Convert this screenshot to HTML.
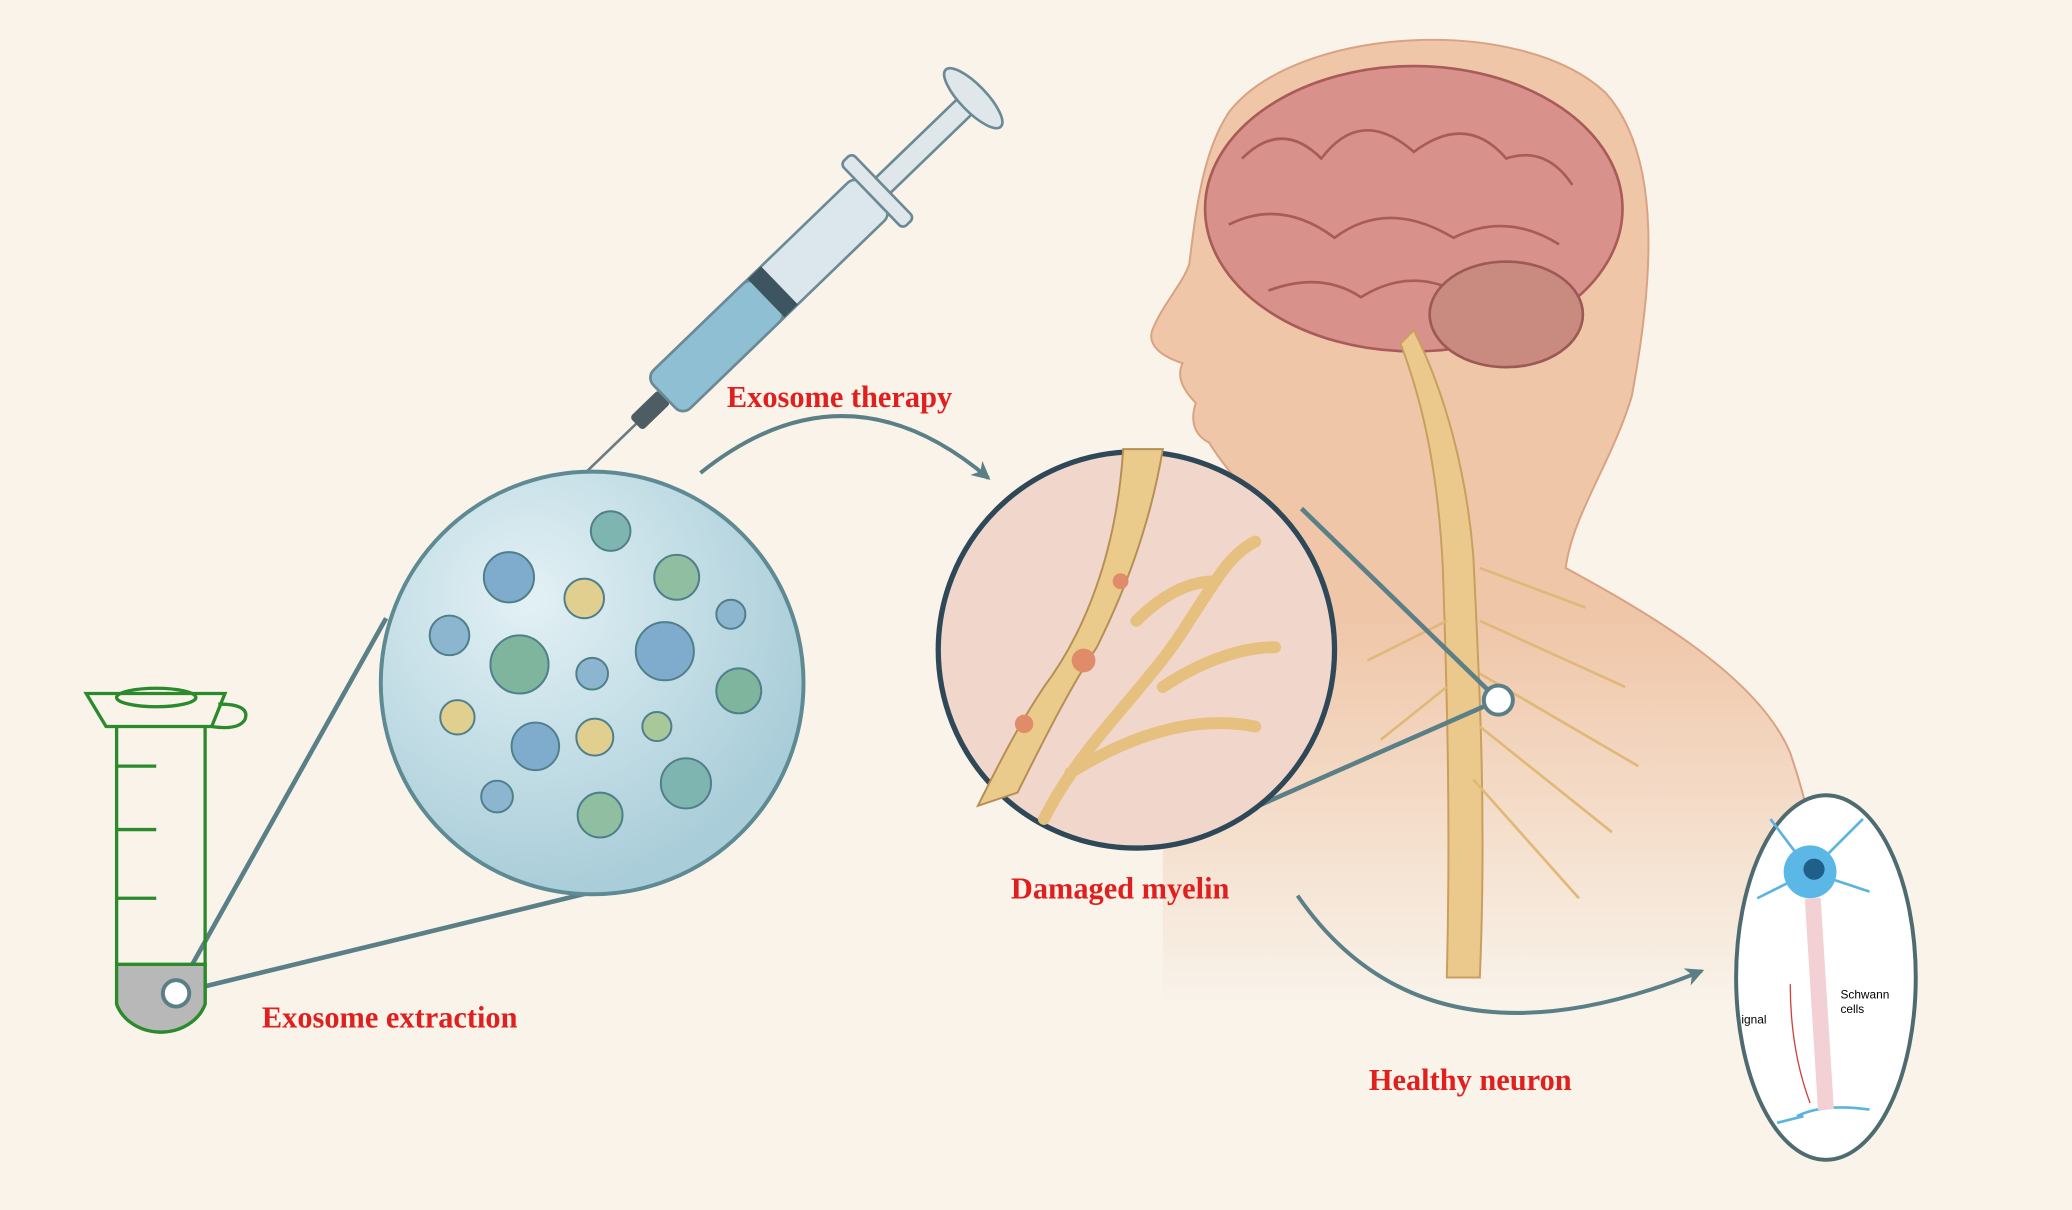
<!DOCTYPE html>
<html><head><meta charset="utf-8"><style>
html,body{margin:0;padding:0;background:#f9f3ea;}
svg{display:block}
.lbl{font-family:"Liberation Serif",serif;font-weight:bold;font-size:23px;fill:#e0201e}
</style></head><body>
<svg width="2072" height="1210" viewBox="0 0 1568 916" xmlns="http://www.w3.org/2000/svg">
<defs>
<radialGradient id="bub" cx="35%" cy="30%" r="70%"><stop offset="0" stop-color="#e3f1f5"/><stop offset="1" stop-color="#a9cdd9"/></radialGradient>
<linearGradient id="fade" x1="0" y1="0" x2="0" y2="1"><stop offset="0.6" stop-color="#efc6a8"/><stop offset="1" stop-color="#f9f3ea"/></linearGradient>
<marker id="ah" markerUnits="userSpaceOnUse" markerWidth="16" markerHeight="16" refX="12" refY="7" orient="auto"><path d="M0,0 L14,7 L0,14 L4,7 z" fill="#5b7f86"/></marker>
</defs>
<rect width="1568" height="916" fill="#f9f3ea"/>
<!-- head silhouette -->
<path d="M930,85 C980,20 1150,10 1215,70 C1260,120 1250,220 1235,300 C1220,350 1190,390 1185,430 C1240,460 1330,510 1355,570 C1375,620 1380,700 1385,760 L880,760 L880,560 C930,520 960,470 990,420 C960,390 930,360 915,335 C905,330 900,320 905,305 C895,295 890,285 895,275 C880,270 868,262 872,250 C880,230 895,215 900,200 C905,160 910,115 930,85 z" fill="url(#fade)"/>
<path d="M880,560 C930,520 960,470 990,420 C960,390 930,360 915,335 C905,330 900,320 905,305 C895,295 890,285 895,275 C880,270 868,262 872,250 C880,230 895,215 900,200 C905,160 910,115 930,85 C980,20 1150,10 1215,70 C1260,120 1250,220 1235,300 C1220,350 1190,390 1185,430 C1240,460 1330,510 1355,570 C1365,600 1370,620 1372,640" fill="none" stroke="#d9a283" stroke-width="1.5"/>
<!-- brain -->
<ellipse cx="1070" cy="158" rx="158" ry="108" fill="#d9918c" stroke="#a85b58" stroke-width="2"/>
<path d="M940,120 q30,-30 60,0 q30,-40 70,-5 q40,-30 70,5 q30,-10 50,20 M930,170 q40,-20 80,10 q40,-30 90,0 q40,-20 80,5 M960,220 q40,-15 70,5 q40,-25 80,0" stroke="#a85b58" stroke-width="2" fill="none"/>
<ellipse cx="1140" cy="238" rx="58" ry="40" fill="#c98a80" stroke="#9b5a55" stroke-width="2"/>
<!-- spinal cord -->
<path d="M1070,250 C1095,300 1110,360 1115,420 C1120,520 1125,620 1120,740 L1095,740 C1098,620 1095,520 1092,430 C1088,350 1075,300 1060,260 z" fill="#ebc98c" stroke="#c89f5e" stroke-width="1.5"/>
<path d="M1120,430 l80,30 M1120,470 l110,50 M1120,510 l120,70 M1120,550 l100,80 M1115,590 l80,90 M1095,470 l-60,30 M1095,520 l-50,40" stroke="#e0b878" stroke-width="2" fill="none"/>
<!-- syringe -->
<g transform="translate(420,380) rotate(-44)">
<line x1="0" y1="0" x2="90" y2="0" stroke="#6b7b80" stroke-width="2"/>
<rect x="85" y="-7" width="30" height="14" fill="#4d5d63" rx="3"/>
<rect x="115" y="-20" width="220" height="40" rx="8" fill="#dbe7ec" stroke="#6b8a95" stroke-width="2"/>
<rect x="115" y="-20" width="110" height="40" rx="8" fill="#8fbfd3" stroke="#6b8a95" stroke-width="2"/>
<rect x="222" y="-20" width="14" height="40" fill="#3c5560"/>
<rect x="333" y="-34" width="12" height="68" rx="4" fill="#dfe7ea" stroke="#6b8a95" stroke-width="2"/>
<rect x="345" y="-8" width="90" height="16" fill="#dfe7ea" stroke="#6b8a95" stroke-width="2"/>
<ellipse cx="440" cy="0" rx="10" ry="30" fill="#dfe7ea" stroke="#6b8a95" stroke-width="2"/>
</g>
<!-- connector lines -->
<line x1="133" y1="752" x2="292" y2="468" stroke="#5b7f86" stroke-width="3.5"/>
<line x1="133" y1="752" x2="478" y2="668" stroke="#5b7f86" stroke-width="3.5"/>
<line x1="1134" y1="530" x2="985" y2="385" stroke="#5b7f86" stroke-width="3.5"/>
<line x1="1134" y1="530" x2="925" y2="622" stroke="#5b7f86" stroke-width="3.5"/>
<!-- exosome circle -->
<circle cx="448" cy="517" r="160" fill="url(#bub)" stroke="#5e8a94" stroke-width="3"/>
<g stroke="#4f7f8a" stroke-width="1.5">
<circle cx="462" cy="402" r="15" fill="#7fb5b0"/><circle cx="385" cy="437" r="19" fill="#7faccc"/>
<circle cx="442" cy="453" r="15" fill="#e0cf8e"/><circle cx="512" cy="437" r="17" fill="#8fbfa0"/>
<circle cx="340" cy="481" r="15" fill="#8cb5d0"/><circle cx="393" cy="503" r="22" fill="#7fb59c"/>
<circle cx="448" cy="510" r="12" fill="#8cb5d0"/><circle cx="503" cy="493" r="22" fill="#7faccc"/>
<circle cx="553" cy="465" r="11" fill="#8cb5d0"/><circle cx="559" cy="523" r="17" fill="#7fb59c"/>
<circle cx="346" cy="543" r="13" fill="#e0cf8e"/><circle cx="405" cy="565" r="18" fill="#7faccc"/>
<circle cx="450" cy="558" r="14" fill="#e0cf8e"/><circle cx="497" cy="550" r="11" fill="#a8c89a"/>
<circle cx="376" cy="603" r="12" fill="#8cb5d0"/><circle cx="454" cy="617" r="17" fill="#8fbfa0"/>
<circle cx="519" cy="593" r="19" fill="#7fb5b0"/></g>
<!-- zoom circle -->
<circle cx="860" cy="492" r="150" fill="#f0d6cb" stroke="#2f4858" stroke-width="4"/>
<path d="M850,340 C845,420 820,480 790,520 C770,550 755,580 740,610 L770,600 C790,560 810,520 830,490 C850,450 870,400 880,340 z" fill="#ebcb8c" stroke="#b68f55" stroke-width="1.5"/>
<path d="M790,620 C820,560 870,520 900,470 C920,440 930,420 950,410 M880,520 C910,500 940,490 965,490 M860,470 C880,450 900,440 920,440 M810,585 C850,560 900,540 950,550" stroke="#e6c07e" stroke-width="9" fill="none" stroke-linecap="round"/>
<circle cx="820" cy="500" r="9" fill="#e08b6a"/><circle cx="775" cy="548" r="7" fill="#e08b6a"/><circle cx="848" cy="440" r="6" fill="#e08b6a"/>
<circle cx="1134" cy="530" r="11" fill="#fff" stroke="#5b7f86" stroke-width="3"/>
<!-- tube -->
<g stroke="#2b8a2b" stroke-width="2.5" fill="none">
<path d="M88,550 L88,760 A35,30 0 0 0 155,760 L155,550"/>
<path d="M88,730 L155,730 L155,760 A35,30 0 0 1 88,760 z" fill="#b8b8b8"/>
<path d="M65,525 L170,525 L160,550 L80,550 z" fill="#f9f3ea"/>
<ellipse cx="118" cy="528" rx="30" ry="7"/>
<path d="M165,533 q25,0 20,12 q-5,8 -25,5"/>
<path d="M88,628 l30,0 M88,680 l30,0 M88,580 l30,0"/>
</g>
<circle cx="133" cy="752" r="10" fill="#fff" stroke="#5b7f86" stroke-width="3"/>
<!-- arrows -->
<path d="M530,358 Q640,270 748,362" stroke="#5b7f86" stroke-width="3" fill="none" marker-end="url(#ah)"/>
<path d="M982,678 Q1080,820 1288,735" stroke="#5b7f86" stroke-width="3" fill="none" marker-end="url(#ah)"/>
<!-- neuron oval -->
<ellipse cx="1382" cy="740" rx="68" ry="138" fill="#fff" stroke="#4d6b70" stroke-width="3"/>
<path d="M1370,660 l-30,-40 M1370,660 l40,-40 M1370,660 l-40,20 M1370,660 l45,15 M1360,845 q20,-10 55,-5 M1345,850 l20,-5" stroke="#5bb3e0" stroke-width="2" fill="none"/>
<circle cx="1370" cy="660" r="20" fill="#5bb8e6"/><circle cx="1373" cy="658" r="8" fill="#1f5f8a"/>
<path d="M1372,680 L1382,840" stroke="#f2d0d4" stroke-width="12" fill="none"/>
<path d="M1355,745 q0,50 15,90" stroke="#d04040" stroke-width="1" fill="none"/>
<text x="1318" y="775" font-family="Liberation Sans,sans-serif" font-size="9">ignal</text>
<text x="1393" y="756" font-family="Liberation Sans,sans-serif" font-size="9">Schwann</text>
<text x="1393" y="767" font-family="Liberation Sans,sans-serif" font-size="9">cells</text>
<!-- labels -->
<text class="lbl" x="550" y="308">Exosome therapy</text>
<text class="lbl" x="765" y="680">Damaged myelin</text>
<text class="lbl" x="198" y="778">Exosome extraction</text>
<text class="lbl" x="1036" y="825">Healthy neuron</text>
</svg>
</body></html>
